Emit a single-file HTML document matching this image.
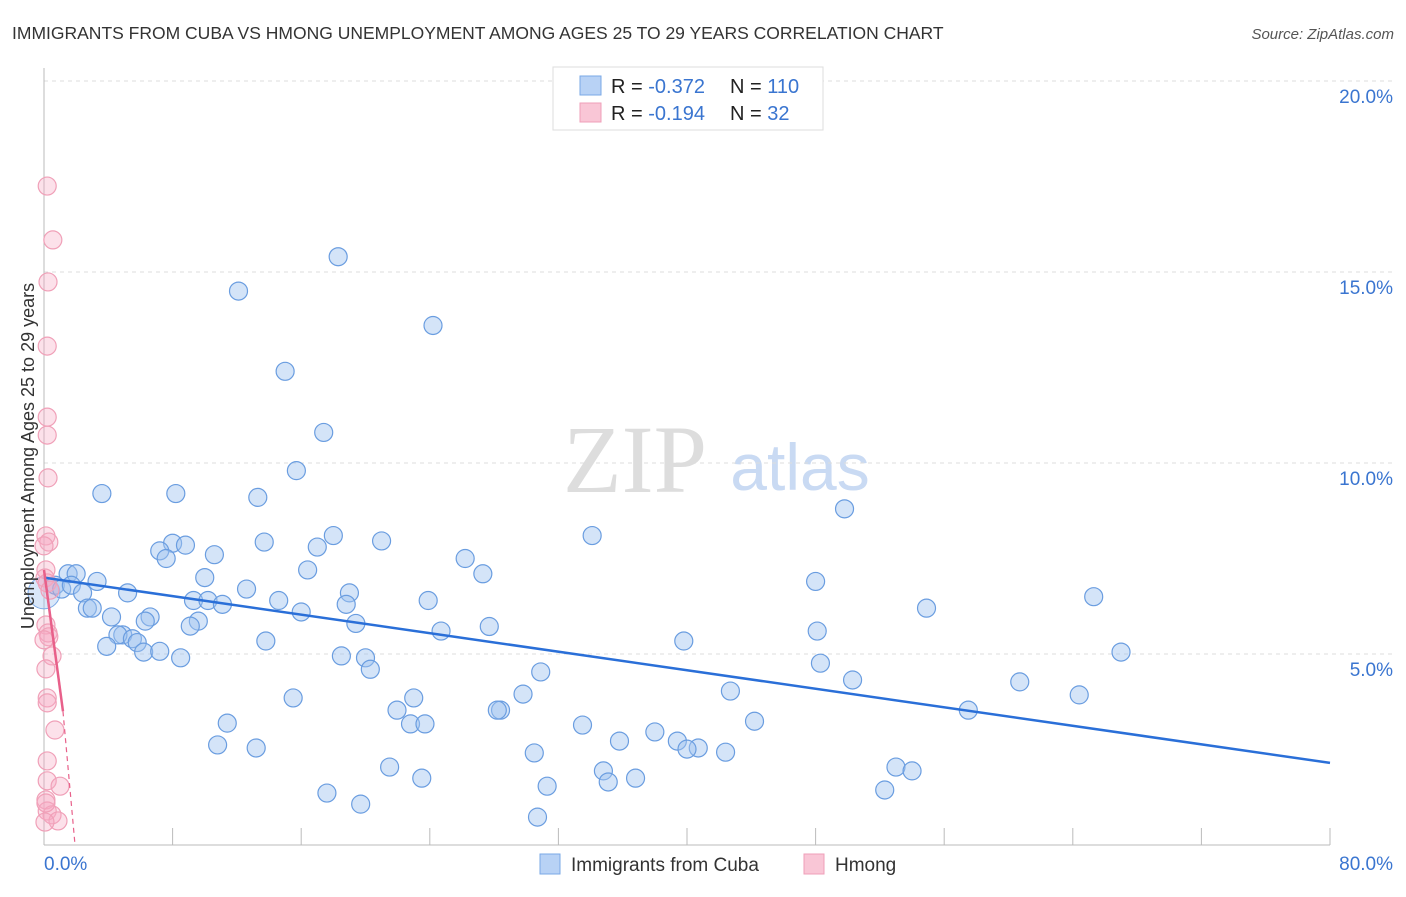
<!DOCTYPE html>
<html><head><meta charset="utf-8"><style>
body{margin:0;background:#fff;font-family:"Liberation Sans",sans-serif;}
</style></head><body>
<svg width="1406" height="892" xmlns="http://www.w3.org/2000/svg" id="chart" style="font-family:'Liberation Sans',sans-serif">
<text x="12" y="39" font-size="17.5" fill="#333">IMMIGRANTS FROM CUBA VS HMONG UNEMPLOYMENT AMONG AGES 25 TO 29 YEARS CORRELATION CHART</text>
<text x="1394" y="39" font-size="15" fill="#555" font-style="italic" text-anchor="end">Source: ZipAtlas.com</text>
<text x="635" y="492" font-size="96" fill="#ddd" font-family="Liberation Serif,serif" text-anchor="middle">ZIP</text>
<text x="800" y="490" font-size="66" fill="#c9daf3" text-anchor="middle">atlas</text>
<g id="grid"></g>
<g id="axes"></g>
<g id="points"></g>
<g id="lines"></g>
<text transform="translate(34,456) rotate(-90)" font-size="18" fill="#333" text-anchor="middle">Unemployment Among Ages 25 to 29 years</text>
<g>
<rect x="553" y="67" width="270" height="63" fill="#fff" stroke="#ddd"/>
<rect x="580" y="76" width="21" height="19" fill="#b8d2f5" stroke="#7aa8e6"/>
<rect x="580" y="103" width="21" height="19" fill="#f9c6d6" stroke="#ef9fb8"/>
<text x="611" y="93" font-size="20" fill="#222">R = <tspan fill="#3a75d0">-0.372</tspan></text>
<text x="730" y="93" font-size="20" fill="#222">N = <tspan fill="#3a75d0">110</tspan></text>
<text x="611" y="120" font-size="20" fill="#222">R = <tspan fill="#3a75d0"> -0.194</tspan></text>
<text x="730" y="120" font-size="20" fill="#222">N = <tspan fill="#3a75d0"> 32</tspan></text>
</g>
<g>
<rect x="540" y="854" width="20" height="20" fill="#b8d2f5" stroke="#7aa8e6"/>
<text x="571" y="871" font-size="19" fill="#333">Immigrants from Cuba</text>
<rect x="804" y="854" width="20" height="20" fill="#f9c6d6" stroke="#ef9fb8"/>
<text x="835" y="871" font-size="19" fill="#333">Hmong</text>
</g>
</svg>
<script>
const blueX=[18.3,12.1,24.2,15,17.4,15.7,3.6,8.2,13.3,49.8,34.1,18,21,13.7,8,8.8,7.2,7.6,10.6,17,26.2,16.4,27.3,1.5,2,10,3.3,48,12.6,19,5.2,0.7,1.1,1.7,2.4,65.3,14.6,9.3,10.2,11.1,23.9,18.8,2.7,3,16,54.9,4.2,6.6,6.3,9.6,9.1,19.4,24.7,27.7,48.1,4.9,4.6,5.5,5.8,3.9,13.8,39.8,6.2,7.2,8.5,18.5,20,20.3,48.3,67,30.9,50.3,60.7,42.7,29.8,64.4,15.5,23,21.96,28.4,28.2,57.5,11.4,22.8,23.7,33.5,44.2,38,35.8,10.8,13.2,39.4,40.7,40,42.4,30.5,21.5,34.8,53,54.0,23.5,36.8,35.1,31.3,17.6,52.3,19.7,30.7];
const blueY=[15.4,14.5,13.6,12.4,10.8,9.8,9.2,9.2,9.1,8.8,8.1,8.1,7.96,7.93,7.9,7.85,7.7,7.5,7.6,7.8,7.5,7.2,7.1,7.1,7.1,7.0,6.9,6.9,6.7,6.6,6.6,6.8,6.7,6.8,6.6,6.5,6.4,6.4,6.4,6.3,6.4,6.3,6.2,6.2,6.1,6.2,5.97,5.97,5.86,5.86,5.73,5.8,5.6,5.72,5.6,5.5,5.5,5.4,5.3,5.2,5.34,5.34,5.05,5.07,4.9,4.95,4.9,4.6,4.76,5.05,4.53,4.32,4.27,4.03,3.95,3.93,3.85,3.85,3.53,3.53,3.53,3.53,3.19,3.17,3.17,3.14,3.24,2.96,2.72,2.62,2.54,2.72,2.54,2.51,2.43,2.41,2.04,1.94,2.04,1.94,1.75,1.75,1.65,1.54,1.36,1.44,1.07,0.73];
const pinkX=[0.2,0.55,0.25,0.2,0.2,0.2,0.25,0.12,0.3,0,0.12,0.06,0.2,0.37,0.12,0.25,0.3,0,0.5,0.12,0.2,0.2,0.68,0.2,0.2,1.0,0.12,0.2,0.5,0.87,0.06,0.12];
const pinkY=[17.25,15.84,14.74,13.06,11.2,10.73,9.61,8.09,7.93,7.83,7.2,6.99,6.86,6.67,5.76,5.55,5.45,5.37,4.95,4.61,3.85,3.72,3.01,2.2,1.68,1.54,1.18,0.89,0.79,0.63,0.6,1.1];
const blueTrend=[7.0,2.15];
const pinkTrend=[7.2,3.5];
const pinkTrendEndX=1.18, pinkZeroX=1.93;
const yTicks=[5,10,15,20];
const yTickLabels=["5.0%","10.0%","15.0%","20.0%"];
const xTickVals=[8,16,24,32,40,48,56,64,72,80];
const NS="http://www.w3.org/2000/svg";
const X=v=>44+v*16.075, Y=v=>845-v*38.2;
function mk(p,t,a){const e=document.createElementNS(NS,t);for(const k in a)e.setAttribute(k,a[k]);document.getElementById(p).appendChild(e);return e;}
yTicks.forEach((t,i)=>{
 const g=mk('grid','line',{x1:44,x2:1394,y1:Y(t),y2:Y(t),stroke:'#ddd','stroke-dasharray':'4,4'});
 
 
 const l=mk('grid','text',{x:1393,y:Y(t)+22,'font-size':19,fill:'#3a75d0','text-anchor':'end'});
 l.textContent=yTickLabels[i];
 
 
});
const ax=mk('axes','line',{x1:44,x2:44,y1:68,y2:845,stroke:'#bbb'});


const bx=mk('axes','line',{x1:44,x2:1330,y1:845,y2:845,stroke:'#bbb'});


xTickVals.forEach(v=>{
 const t=mk('axes','line',{x1:X(v),x2:X(v),y1:828,y2:845,stroke:'#bbb'});
 
 
});
const x0=mk('axes','text',{x:44,y:870,'font-size':19,fill:'#3a75d0'});x0.textContent='0.0%';


const x1=mk('axes','text',{x:1393,y:870,'font-size':19,fill:'#3a75d0','text-anchor':'end'});x1.textContent='80.0%';


const big=mk('points','circle',{cx:X(0),cy:Y(6.6),r:16,fill:'rgba(160,196,240,0.4)',stroke:'#7aa8e6'});


blueX.forEach((v,i)=>{
 const c=mk('points','circle',{cx:X(v),cy:Y(blueY[i]),r:9,fill:'rgba(160,196,240,0.45)',stroke:'#6a9de0','stroke-width':1.2});
 
 
});
pinkX.forEach((v,i)=>{
 const c=mk('points','circle',{cx:X(v),cy:Y(pinkY[i]),r:9,fill:'rgba(245,170,195,0.35)',stroke:'#f0a0b8','stroke-width':1.2});
 
 
});
const bl=mk('lines','line',{x1:X(0),y1:Y(blueTrend[0]),x2:X(80),y2:Y(blueTrend[1]),stroke:'#2a6fd8','stroke-width':2.5});


const pl=mk('lines','line',{x1:X(0),y1:Y(pinkTrend[0]),x2:X(pinkTrendEndX),y2:Y(pinkTrend[1]),stroke:'#e8608a','stroke-width':2.5});


const pd=mk('lines','line',{x1:X(pinkTrendEndX),y1:Y(pinkTrend[1]),x2:X(pinkZeroX),y2:Y(0),stroke:'#e8608a','stroke-width':1.2,'stroke-dasharray':'5,4'});


</script>
</body></html>
